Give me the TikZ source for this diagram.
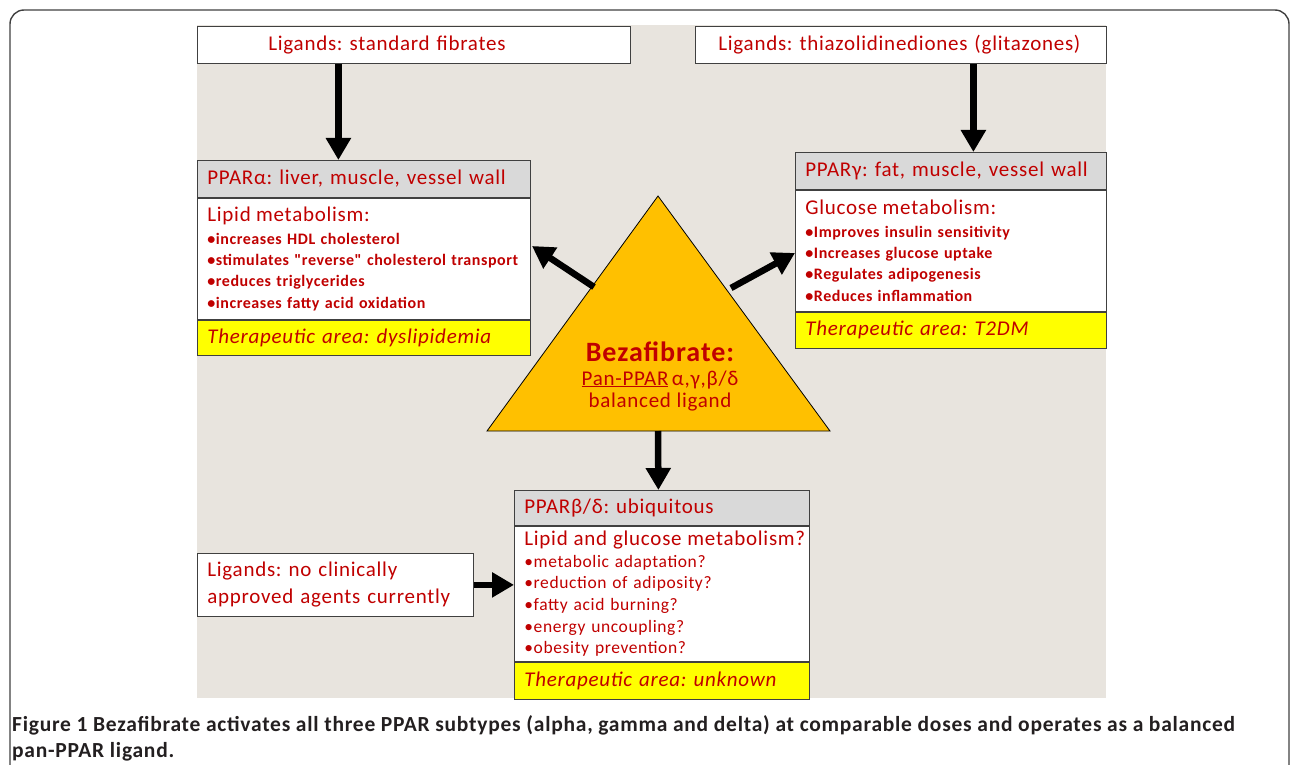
\documentclass[tikz,border=0pt]{standalone}
\usepackage{fontspec}
\setmainfont{Carlito}[Ligatures=TeXOff, LetterSpace=3.5]
\usetikzlibrary{arrows.meta,positioning}
\frenchspacing
\definecolor{panelbg}{HTML}{E8E4DE}
\definecolor{hdrgray}{HTML}{D9D9D9}
\definecolor{thyellow}{HTML}{FFFF00}
\definecolor{darkred}{HTML}{C00000}
\definecolor{boxline}{HTML}{404040}
\definecolor{pyramid}{HTML}{FFC000}
\definecolor{captext}{HTML}{231F20}
\newcommand{\headfont}{\fontsize{21}{23}\selectfont}
\newcommand{\bulfont}{\fontsize{16}{21.3}\selectfont\bfseries}
\newcommand{\qbulfont}{\fontsize{17.5}{21.7}\selectfont}
\tikzset{
  box/.style={draw=boxline, line width=0.8pt, anchor=north west, inner xsep=10pt, inner ysep=0pt, align=left, text=darkred, font=\headfont},
  hdr/.style={box, fill=hdrgray},
  body/.style={box, fill=white, font=\bulfont},
  ther/.style={box, fill=thyellow, font=\headfont\itshape},
  bigarrow/.style={line width=6.5pt, -{Triangle[width=24pt,length=22pt]}},
}

\begin{document}
\begin{tikzpicture}[x=1pt,y=-1pt]
\useasboundingbox (0,0) rectangle (1290,765);
\draw[black!75, line width=1.4pt, rounded corners=14pt] (10,10) rectangle (1289,820);
\fill[panelbg] (197,25) rectangle (1106,698);

% ligand boxes on top
\node (fibr) [box, fill=white, text width=291pt, inner xsep=71pt, minimum height=37pt] at (197,26) {Ligands: standard fibrates};
\node (glit) [box, fill=white, text width=365pt, inner xsep=23pt, minimum height=37pt] at (695,26) {Ligands: thiazolidinediones (glitazones)};

% PPAR alpha
\node (ahdr) [hdr, text width=313pt, minimum height=37pt] at (197,160) {PPARα: liver, muscle, vessel wall};
\node (abody) [body, text width=313pt, minimum height=121pt] at (ahdr.south west) {{\headfont\mdseries Lipid metabolism:}\\[1.5pt]
•increases HDL cholesterol\\
•stimulates "reverse" cholesterol transport\\
•reduces triglycerides\\
•increases fatty acid oxidation\\[-3pt]};
\node (ather) [ther, text width=313pt, minimum height=35pt] at (abody.south west) {Therapeutic area: dyslipidemia};

% PPAR gamma
\node (ghdr) [hdr, text width=291pt, minimum height=37pt] at (795,152) {PPARγ: fat, muscle, vessel wall};
\node (gbody) [body, text width=291pt, minimum height=121pt] at (ghdr.south west) {{\headfont\mdseries Glucose metabolism:}\\[1pt]
•Improves insulin sensitivity\\
•Increases glucose uptake\\
•Regulates adipogenesis\\
•Reduces inflammation};
\node (gther) [ther, text width=291pt, minimum height=36pt] at (gbody.south west) {Therapeutic area: T2DM};

% PPAR beta/delta
\node (bhdr) [hdr, text width=275pt, minimum height=35pt] at (514,490) {PPARβ/δ: ubiquitous};
\node (bbody) [body, font=\qbulfont, text width=275pt, minimum height=135pt] at (bhdr.south west) {{\headfont\mbox{Lipid and glucose metabolism?}}\\[0pt]
•metabolic adaptation?\\
•reduction of adiposity?\\
•fatty acid burning?\\
•energy uncoupling?\\
•obesity prevention?\\[1pt]};
\node (bther) [ther, text width=275pt, minimum height=37pt] at (bbody.south west) {Therapeutic area: unknown};

\node (noagt) [box, fill=white, text width=256pt, minimum height=63pt, font=\fontsize{21}{27}\selectfont] at (197,553) {Ligands: no clinically\\ approved agents currently};

% central triangle
\coordinate (top) at (658,196);
\coordinate (bl) at (487,431);
\coordinate (br) at (830,431);
\coordinate (botmid) at (658,431);
\draw[fill=pyramid, draw=black, line width=0.8pt] (top) -- (br) -- (bl) -- cycle;
\node (beza) [align=center, text=darkred, font=\headfont] at (660,376) {{\fontsize{28}{30}\selectfont\bfseries Bezafibrate:}\\[1pt]
\underline{Pan-PPAR}\,α,γ,β/δ\\[-1pt] balanced ligand};

% arrows
\coordinate (atail) at (594,287);
\coordinate (atip) at (532,246);
\coordinate (gtail) at (731,288);
\coordinate (gtip) at (795,253);
\draw[bigarrow] ([xshift=-75.5pt]fibr.south) -- ([xshift=-25.5pt]ahdr.north);
\draw[bigarrow] ([xshift=72.5pt]glit.south) -- ([xshift=22.5pt]ghdr.north);
\draw[bigarrow] (atail) -- (atip);
\draw[bigarrow] (gtail) -- (gtip);
\draw[bigarrow] (botmid) -- ([xshift=-3.5pt]bhdr.north);
\draw[bigarrow] (noagt.east) -- (noagt.east -| bhdr.west);

% caption
\node (capt) [anchor=north west, align=left, inner sep=0pt, text=captext, font=\fontsize{21.5}{26}\selectfont\bfseries] at (12,715) {Figure 1 Bezafibrate activates all three PPAR subtypes (alpha, gamma and delta) at comparable doses and operates as a balanced\\ pan-PPAR ligand.};
\end{tikzpicture}
\end{document}
